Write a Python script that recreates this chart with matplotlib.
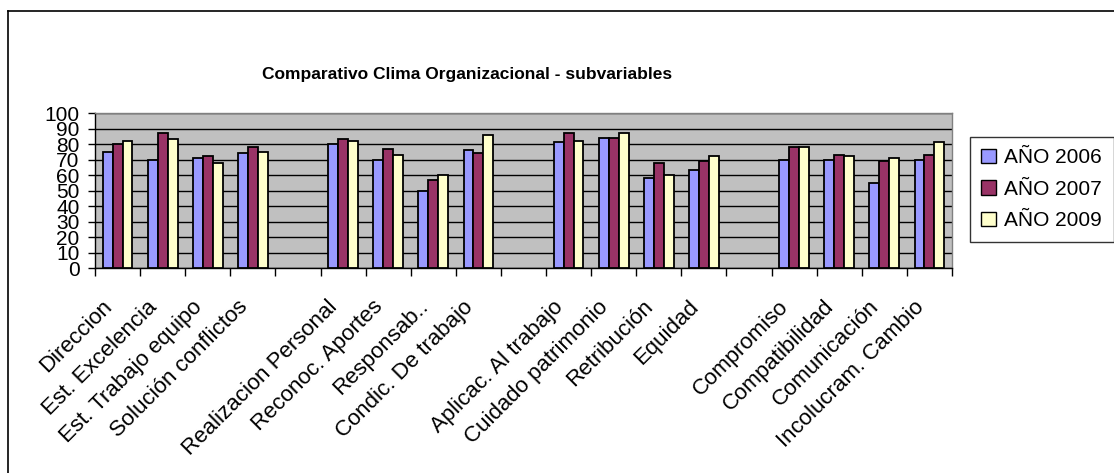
import matplotlib
matplotlib.use("Agg")
import matplotlib.pyplot as plt
import matplotlib.transforms as mtransforms
import numpy as np
from matplotlib.lines import Line2D

plt.rcParams['font.family'] = ['Liberation Sans', 'DejaVu Sans']

categories = ["Direccion", "Est. Excelencia", "Est. Trabajo equipo", "Solución conflictos", "",
              "Realizacion Personal", "Reconoc. Aportes", "Responsab..", "Condic. De trabajo", "",
              "Aplicac. Al trabajo", "Cuidado patrimonio", "Retribución", "Equidad", "",
              "Compromiso", "Compatibilidad", "Comunicación", "Incolucram. Cambio"]
anio_2006 = [75, 70, 71, 74, None, 80, 70, 50, 76, None, 81, 84, 58, 63, None, 70, 70, 55, 70]
anio_2007 = [80, 87, 72, 78, None, 83, 77, 57, 74, None, 87, 84, 68, 69, None, 78, 73, 69, 73]
anio_2009 = [82, 83, 68, 75, None, 82, 73, 60, 86, None, 82, 87, 60, 72, None, 78, 72, 71, 81]
series_labels = ["AÑO 2006", "AÑO 2007", "AÑO 2009"]
colors = ["#9999FF", "#993366", "#FFFFCC"]
yticks = list(range(0, 101, 10))

W, H = 1114, 473
fig = plt.figure(figsize=(W / 100, H / 100), dpi=100)
ax = fig.add_axes([95 / W, 1 - 268 / H, (952 - 95) / W, (268 - 113) / H])
ax.set_facecolor("#C0C0C0")

x = np.arange(len(categories))
bw = 0.22
for i, (vals, lab, col) in enumerate(zip([anio_2006, anio_2007, anio_2009], series_labels, colors)):
    xs = [xi + (i - 1) * bw for xi, v in zip(x, vals) if v is not None]
    vs = [v for v in vals if v is not None]
    ax.bar(xs, vs, width=bw, color=col, edgecolor="black", linewidth=1.3, label=lab, zorder=3)

ax.set_xlim(-0.5, len(categories) - 0.5)
ax.set_ylim(0, 100)
ax.set_yticks(yticks)
ax.set_yticklabels([str(t) for t in yticks], fontsize=15)
ax.yaxis.grid(True, color="black", linewidth=1.0, zorder=1)
ax.set_axisbelow(True)
ax.set_xticks(x)
ax.set_xticklabels(categories, rotation=45, ha="right", rotation_mode="anchor", fontsize=16)
ax.tick_params(axis="x", length=0, pad=6)
offset = mtransforms.ScaledTranslation(-16 / 100, -20 / 100, fig.dpi_scale_trans)
for lbl in ax.get_xticklabels():
    lbl.set_transform(lbl.get_transform() + offset)
ax.set_xticks(np.arange(-0.5, len(categories) + 0.5, 1), minor=True)
ax.tick_params(axis="x", which="minor", length=6, width=1, color="black")
ax.tick_params(axis="y", length=5, width=1, pad=6)
for s in ["top", "right"]:
    ax.spines[s].set_color("#808080")
    ax.spines[s].set_linewidth(1)
for s in ["left", "bottom"]:
    ax.spines[s].set_color("black")
    ax.spines[s].set_linewidth(1)

fig.text(467 / W, 1 - 75 / H, "Comparativo Clima Organizacional - subvariables",
         ha="center", va="center", fontsize=12.5, fontweight="bold")

handles = [plt.Rectangle((0, 0), 1, 1, facecolor=c, edgecolor="black", linewidth=1) for c in colors]
leg = fig.legend(handles, series_labels, loc="upper left", bbox_to_anchor=(970 / W, 1 - 137 / H),
                 fontsize=15, frameon=True, fancybox=False, edgecolor="black",
                 handlelength=0.7, handleheight=0.7, handletextpad=0.4, labelspacing=0.6,
                 borderpad=0.55, borderaxespad=0)
leg.get_frame().set_linewidth(1)

# outer chart border
fig.add_artist(Line2D([8 / W, 8 / W], [0, 1 - 11 / H], color="black", linewidth=1.2, transform=fig.transFigure))
fig.add_artist(Line2D([8 / W, 1], [1 - 11 / H, 1 - 11 / H], color="black", linewidth=1.2, transform=fig.transFigure))

fig.savefig("out.png", dpi=100)
